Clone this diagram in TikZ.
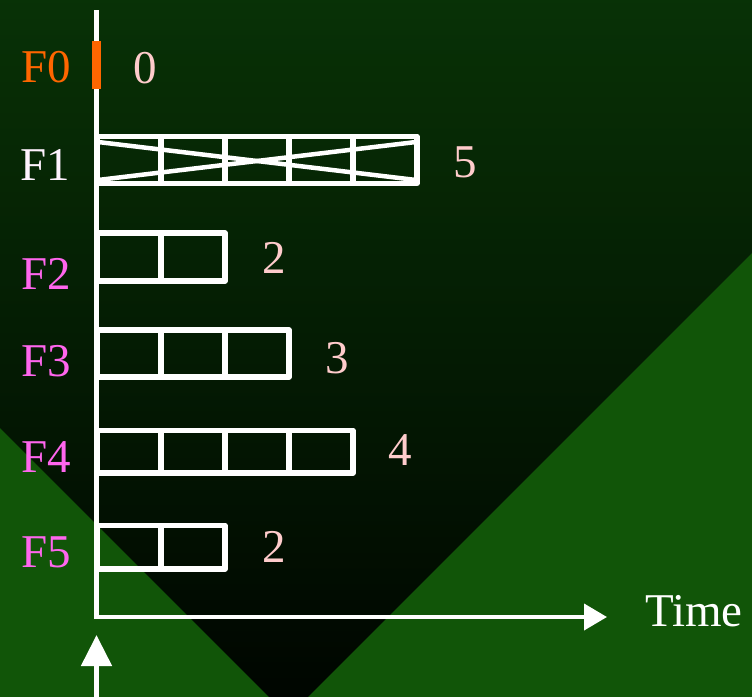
\documentclass[tikz,border=0pt]{standalone}
\usepackage{fontspec}
\setmainfont{Liberation Serif}
\usetikzlibrary{arrows.meta}
\definecolor{bgtop}{HTML}{083206}
\definecolor{bgbot}{HTML}{000500}
\definecolor{tri}{HTML}{115508}
\definecolor{fzero}{HTML}{FF6600}
\definecolor{fmag}{HTML}{FF66EE}
\definecolor{numc}{HTML}{FFCCCC}
\definecolor{fone}{HTML}{FFF2FF}
\begin{document}
\begin{tikzpicture}[x=1pt,y=-1pt,
 lbl/.style={anchor=base west, inner sep=0pt, font=\rmfamily\fontsize{47}{56}\selectfont},
 bar/.style={draw=white, line width=5.5pt, line join=round},
 crossln/.style={draw=white, line width=4.5pt},
]
\useasboundingbox (0,0) rectangle (752,696);
\shade[top color=bgtop, bottom color=bgbot] (-5,-5) rectangle (757,701);
\fill[tri] (0,428) -- (-5,428) -- (-5,701) -- (273,701) -- cycle;
\fill[tri] (752,253) -- (757,253) -- (757,701) -- (304,701) -- cycle;

% axes
\coordinate (ytop) at (96.5,10);
\coordinate (corner) at (96.5,619);
\coordinate (xstart) at (94,617);
\coordinate (xtip) at (607,617);
\coordinate (ubase) at (96.5,700);
\coordinate (utip) at (96.5,635);
\draw[white, line width=5pt] (ytop) -- (corner);
\draw[white, line width=4pt, -{Triangle[length=23pt,width=26pt]}] (xstart) -- (xtip);
\draw[white, line width=5pt, -{Triangle[length=31pt,width=30pt]}] (ubase) -- (utip);

% F0 marker
\fill[fzero] (92,41) rectangle (101,89);

% F1 bar (crossed)
\draw[bar] (97,136.5) rectangle (417,183.5);
\foreach \x in {161,225,289,353} \draw[bar] (\x,136.5) -- (\x,183.5);
\draw[crossln] (98,142) -- (416,180);
\draw[crossln] (98,180) -- (416,142);

% F2
\draw[bar] (97,233) rectangle (225,281);
\draw[bar] (161,233) -- (161,281);
% F3
\draw[bar] (97,330) rectangle (289,377);
\foreach \x in {161,225} \draw[bar] (\x,330) -- (\x,377);
% F4
\draw[bar] (97,430.5) rectangle (353,473);
\foreach \x in {161,225,289} \draw[bar] (\x,430.5) -- (\x,473);
% F5
\draw[bar] (97,525.5) rectangle (225,569);
\draw[bar] (161,525.5) -- (161,569);

% labels
\node[lbl, text=fzero] (f0) at (21,82) {F0};
\node[lbl, text=fone] (f1) at (20,180) {F1};
\node[lbl, text=fmag] (f2) at (21,289) {F2};
\node[lbl, text=fmag] (f3) at (21,376) {F3};
\node[lbl, text=fmag] (f4) at (21,472) {F4};
\node[lbl, text=fmag] (f5) at (21,567) {F5};

\node[lbl, text=numc] (n0) at (133,83) {0};
\node[lbl, text=numc] (n1) at (453,177) {5};
\node[lbl, text=numc] (n2) at (262,273) {2};
\node[lbl, text=numc] (n3) at (325,373) {3};
\node[lbl, text=numc] (n4) at (388,465) {4};
\node[lbl, text=numc] (n5) at (262,562) {2};

\node[lbl, text=white] (time) at (645,626) {Time};
\end{tikzpicture}
\end{document}
